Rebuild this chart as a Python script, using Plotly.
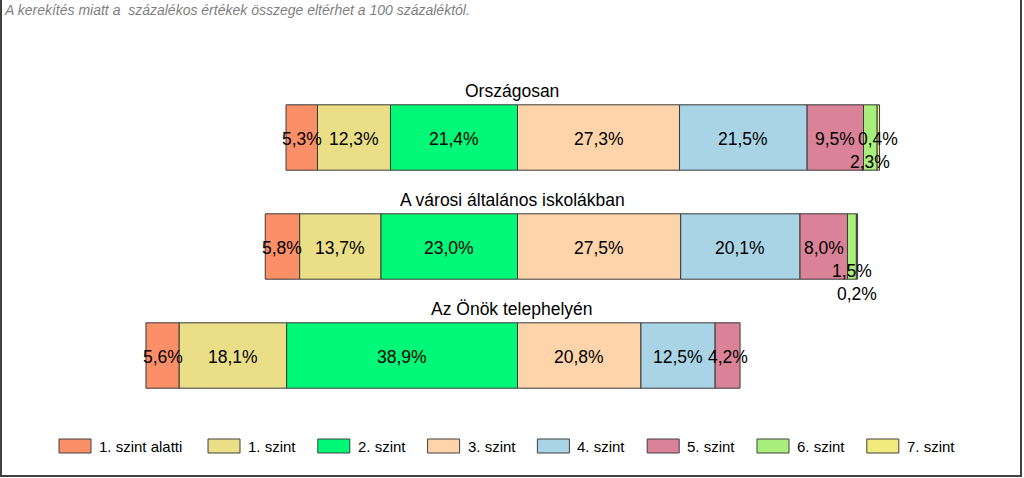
import plotly.graph_objects as go

# ---------------- data ----------------
categories = ["Országosan", "A városi általános iskolákban", "Az Önök telephelyén"]
level_names = ["1. szint alatti", "1. szint", "2. szint", "3. szint",
               "4. szint", "5. szint", "6. szint", "7. szint"]
below_level_1 = [5.3, 5.8, 5.6]
level_1 = [12.3, 13.7, 18.1]
level_2 = [21.4, 23.0, 38.9]
level_3 = [27.3, 27.5, 20.8]
level_4 = [21.5, 20.1, 12.5]
level_5 = [9.5, 8.0, 4.2]
level_6 = [2.3, 1.5, 0.0]
level_7 = [0.4, 0.2, 0.0]
note_text = "A kerekítés miatt a \u00a0százalékos értékek összege eltérhet a 100 százaléktól."

# ---------------- style ----------------
colors = ["#FB8F67", "#EADF86", "#00F878", "#FFD4AA",
          "#A8D4E6", "#DA8297", "#A9EF7B", "#F0EB7C"]
FONT = "Liberation Sans, Arial, sans-serif"
W, H = 1024, 478
ZERO_PX = 517.5      # pixel position of the 2./3. szint boundary
PX_PER_PCT = 5.935
ROW0_PX = 137.5
ROW_STEP = 109.0
N_LEFT = 3           # levels drawn to the left of zero
LEGEND_FIRST_X = 59
LEGEND_SECOND_X = 208
LEGEND_STEP = 109.8

# label vertical nudges (series index, row index) -> px (to avoid overlaps)
label_shift = {(6, 0): -23, (6, 1): -23.5, (7, 1): -46.5}

series = [below_level_1, level_1, level_2, level_3, level_4, level_5, level_6, level_7]

fig = go.Figure()
annotations = []

for i, vals in enumerate(series):
    bases, widths, ys = [], [], []
    for r, cat in enumerate(categories):
        v = vals[r]
        if i < N_LEFT:
            start = -sum(series[k][r] for k in range(i, N_LEFT))
        else:
            start = sum(series[k][r] for k in range(N_LEFT, i))
        if v <= 0:
            continue
        bases.append(start)
        widths.append(v)
        ys.append(cat)
        annotations.append(dict(
            x=start + v / 2, y=cat, xref="x", yref="y",
            text=f"{v:.1f}%".replace(".", ","), showarrow=False,
            font=dict(family=FONT, size=17.5, color="#000000"),
            xanchor="center", yanchor="middle",
            yshift=label_shift.get((i, r), 0) - 1))
    fig.add_trace(go.Bar(
        y=ys, x=widths, base=bases, orientation="h", name=level_names[i],
        width=0.6, marker=dict(color=colors[i], line=dict(color="#3a3a3a", width=1)),
        showlegend=False, hoverinfo="skip"))

# row titles
for cat in categories:
    annotations.append(dict(
        x=512 / W, y=cat, xref="paper", yref="y", text=cat, showarrow=False,
        font=dict(family=FONT, size=17.5, color="#000000"),
        xanchor="center", yanchor="middle", yshift=46.5))

# note
annotations.append(dict(
    x=2 / W, y=1, xref="paper", yref="paper", text="<i>" + note_text + "</i>",
    showarrow=False, font=dict(family=FONT, size=14, color="#7F7F7F"),
    xanchor="left", yanchor="top"))

# custom legend
shapes = []
for i, name in enumerate(level_names):
    sx = LEGEND_FIRST_X if i == 0 else LEGEND_SECOND_X + (i - 1) * LEGEND_STEP
    shapes.append(dict(type="rect", xref="paper", yref="paper",
                       x0=sx / W, x1=(sx + 32) / W,
                       y0=1 - 453 / H, y1=1 - 439 / H,
                       fillcolor=colors[i], line=dict(color="#404040", width=1)))
    annotations.append(dict(
        x=(sx + 38) / W, y=1 - 446 / H, xref="paper", yref="paper", text=name,
        showarrow=False, font=dict(family=FONT, size=15, color="#000000"),
        xanchor="left", yanchor="middle"))

# frame
shapes.append(dict(type="rect", xref="paper", yref="paper",
                   x0=1 / W, x1=1021 / W, y0=1 - 476 / H, y1=1 + 6 / H,
                   line=dict(color="#404040", width=2), fillcolor="rgba(0,0,0,0)"))

fig.update_layout(
    width=W, height=H, autosize=False,
    margin=dict(l=0, r=0, t=0, b=0, pad=0),
    barmode="overlay",
    plot_bgcolor="white", paper_bgcolor="white",
    xaxis=dict(range=[-ZERO_PX / PX_PER_PCT, (W - ZERO_PX) / PX_PER_PCT],
               visible=False, fixedrange=True),
    yaxis=dict(type="category", categoryorder="array", categoryarray=categories,
               range=[(H - ROW0_PX) / ROW_STEP, -ROW0_PX / ROW_STEP],
               visible=False, fixedrange=True),
    annotations=annotations, shapes=shapes,
    showlegend=False,
)

fig.write_html(
    "out.html",
    config={"displayModeBar": False},
    post_script="document.body.style.margin='0';document.body.style.overflow='hidden';",
)
